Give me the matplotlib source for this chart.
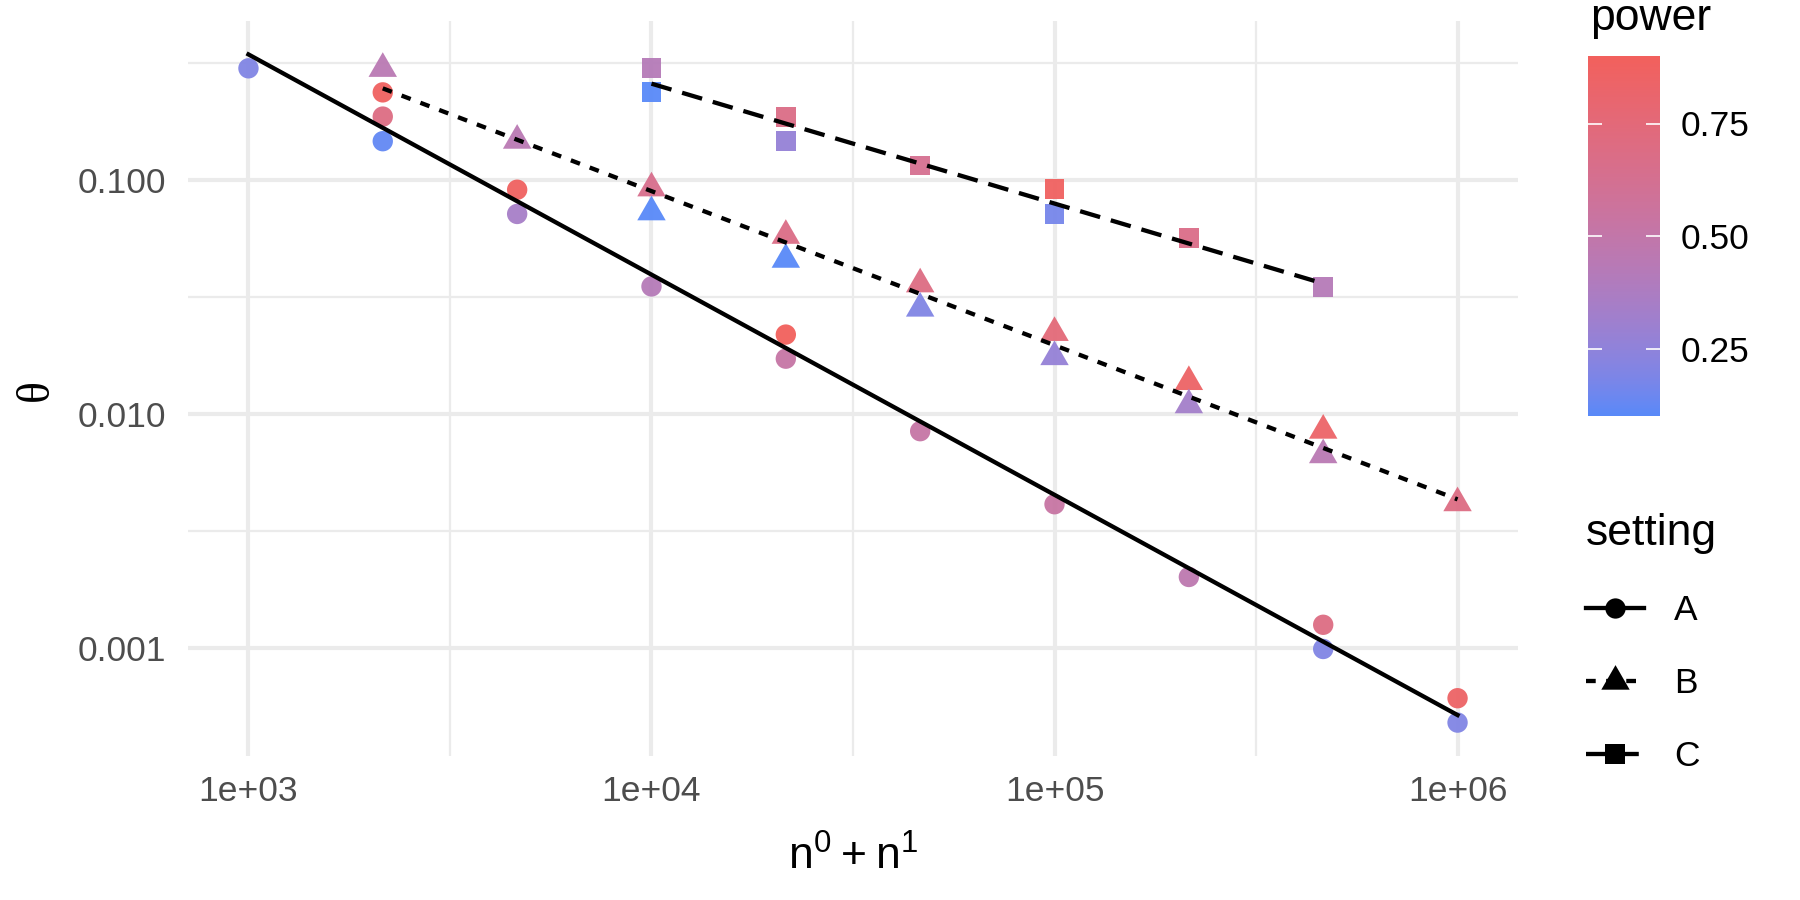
import numpy as np
import matplotlib
matplotlib.use('Agg')
import matplotlib.pyplot as plt
from matplotlib.colors import ListedColormap
from matplotlib.lines import Line2D
from matplotlib.ticker import FixedLocator, FixedFormatter, NullFormatter

# data: n0 + n1, theta, power for each setting
n_A = [1000, 2154, 2154, 2154, 4642, 4642, 10000, 21544, 21544, 46416,
       100000, 215443, 464159, 464159, 1000000, 1000000]
theta_A = [0.299, 0.236, 0.186, 0.146, 0.0906, 0.0714, 0.035, 0.0218, 0.0172,
           0.00843, 0.00411, 0.00201, 0.001256, 0.00099, 0.00061, 0.00048]
power_A = [0.20, 0.88, 0.70, 0.12, 0.88, 0.35, 0.42, 0.90, 0.52,
           0.52, 0.53, 0.47, 0.70, 0.20, 0.85, 0.20]

n_B = [2154, 4642, 10000, 10000, 21544, 21544, 46416, 46416, 100000, 100000,
       215443, 215443, 464159, 464159, 1000000]
theta_B = [0.298, 0.147, 0.092, 0.0727, 0.0577, 0.0456, 0.0358, 0.0282, 0.0222,
           0.0175, 0.0137, 0.0109, 0.00849, 0.00667, 0.00416]
power_B = [0.45, 0.45, 0.65, 0.10, 0.68, 0.10, 0.70, 0.20, 0.75,
           0.27, 0.85, 0.33, 0.84, 0.45, 0.70]

n_C = [10000, 10000, 21544, 21544, 46416, 100000, 100000, 215443, 464159]
theta_C = [0.299, 0.236, 0.186, 0.1465, 0.115, 0.091, 0.0715, 0.0562, 0.0347]
power_C = [0.42, 0.10, 0.68, 0.27, 0.63, 0.88, 0.17, 0.67, 0.42]

settings = ['A', 'B', 'C']
x_ticks = [1e3, 1e4, 1e5, 1e6]
x_tick_labels = ['1e+03', '1e+04', '1e+05', '1e+06']
y_ticks = [0.001, 0.01, 0.1]
y_tick_labels = ['0.001', '0.010', '0.100']
power_ticks = [0.25, 0.50, 0.75]
power_tick_labels = ['0.25', '0.50', '0.75']


def to_lab(rgb):
    c = np.asarray(rgb, float)
    c = np.where(c > 0.04045, ((c + 0.055) / 1.055) ** 2.4, c / 12.92)
    M = np.array([[0.4124, 0.3576, 0.1805], [0.2126, 0.7152, 0.0722], [0.0193, 0.1192, 0.9505]])
    xyz = M @ c / np.array([0.95047, 1.0, 1.08883])
    f = np.where(xyz > 0.008856, np.cbrt(xyz), 7.787 * xyz + 16 / 116)
    return np.array([116 * f[1] - 16, 500 * (f[0] - f[1]), 200 * (f[1] - f[2])])


def from_lab(lab):
    fy = (lab[0] + 16) / 116
    f = np.array([fy + lab[1] / 500, fy, fy - lab[2] / 200])
    xyz = np.where(f ** 3 > 0.008856, f ** 3, (f - 16 / 116) / 7.787) * np.array([0.95047, 1.0, 1.08883])
    M = np.array([[3.2406, -1.5372, -0.4986], [-0.9689, 1.8758, 0.0415], [0.0557, -0.2040, 1.0570]])
    c = M @ xyz
    c = np.where(c > 0.0031308, 1.055 * np.clip(c, 0, None) ** (1 / 2.4) - 0.055, 12.92 * c)
    return np.clip(c, 0, 1)


# gradient low -> high interpolated in Lab like ggplot
low = to_lab(matplotlib.colors.to_rgb('#5889F8'))
high = to_lab(matplotlib.colors.to_rgb('#F2605C'))
cmap = ListedColormap([from_lab(low + t * (high - low)) for t in np.linspace(0, 1, 256)])

plt.rcParams['font.family'] = ['Liberation Sans', 'DejaVu Sans']
plt.rcParams['mathtext.fontset'] = 'custom'
plt.rcParams['mathtext.rm'] = 'Liberation Sans'
plt.rcParams['lines.scale_dashes'] = False

fig = plt.figure(figsize=(18, 9), dpi=100)
ax = fig.add_axes([188 / 1800, 1 - 756 / 900, (1518 - 188) / 1800, (756 - 21) / 900])

tri = [(0, 1), (-0.866, -0.5), (0.866, -0.5)]
markers = {'A': ('o', 215), 'B': (tri, 560), 'C': ('s', 205)}
styles = {'A': '-', 'B': (0, (7, 7.5)), 'C': (0, (15, 8))}
data = {'A': (n_A, theta_A, power_A), 'B': (n_B, theta_B, power_B), 'C': (n_C, theta_C, power_C)}

all_p = power_A + power_B + power_C
vmin, vmax = min(all_p), max(all_p)

lx_all, ly_all = [], []
for s in settings:
    n, th, pw = data[s]
    mk, size = markers[s]
    sc = ax.scatter(n, th, c=pw, cmap=cmap, vmin=vmin, vmax=vmax, marker=mk, s=size,
                    linewidths=0, alpha=0.95, zorder=3)
    lx = np.log10(n)
    ly = np.log10(th)
    coef = np.polyfit(lx, ly, 1)
    xs = np.array([lx.min(), lx.max()])
    ys = np.polyval(coef, xs)
    ax.plot(10 ** xs, 10 ** ys, color='black', lw=3.1, linestyle=styles[s], zorder=4)
    lx_all += list(lx) + list(xs)
    ly_all += list(ly) + list(ys)

# 5% expansion in log space
x0, x1 = min(lx_all), max(lx_all)
y0, y1 = min(ly_all), max(ly_all)
ax.set_xscale('log')
ax.set_yscale('log')
ax.set_xlim(10 ** (x0 - 0.05 * (x1 - x0)), 10 ** (x1 + 0.05 * (x1 - x0)))
ax.set_ylim(10 ** (y0 - 0.05 * (y1 - y0)), 10 ** (y1 + 0.05 * (y1 - y0)))

ax.xaxis.set_major_locator(FixedLocator(x_ticks))
ax.xaxis.set_major_formatter(FixedFormatter(x_tick_labels))
ax.xaxis.set_minor_locator(FixedLocator([10 ** 3.5, 10 ** 4.5, 10 ** 5.5]))
ax.xaxis.set_minor_formatter(NullFormatter())
ax.yaxis.set_major_locator(FixedLocator(y_ticks))
ax.yaxis.set_major_formatter(FixedFormatter(y_tick_labels))
ax.yaxis.set_minor_locator(FixedLocator([10 ** -3.5, 10 ** -2.5, 10 ** -1.5, 10 ** -0.5]))
ax.yaxis.set_minor_formatter(NullFormatter())

ax.grid(True, which='major', color='#EBEBEB', lw=3.0)
ax.grid(True, which='minor', color='#EBEBEB', lw=1.6)
ax.set_axisbelow(True)
for sp in ax.spines.values():
    sp.set_visible(False)
ax.tick_params(axis='both', which='both', length=0, labelsize=25.5, labelcolor='#4D4D4D')
ax.tick_params(axis='x', pad=14)
ax.tick_params(axis='y', pad=16)

fig.text(853 / 1800, 1 - 870 / 900, r'$\mathrm{n}^{0} + \mathrm{n}^{1}$', fontsize=32,
         ha='center', va='baseline')
fig.text(37 / 1800, 1 - 390 / 900, 'θ', fontsize=33, family=['Liberation Serif', 'DejaVu Serif'],
         rotation=90, ha='center', va='center')

# colour bar
cax = fig.add_axes([1588 / 1800, 1 - 416 / 900, 72 / 1800, 360 / 900])
cb = fig.colorbar(sc, cax=cax)
cb.outline.set_visible(False)
cb.solids.set_alpha(1)
cb.set_ticks(power_ticks)
cb.set_ticklabels(power_tick_labels)
cax.tick_params(axis='y', direction='in', length=10, width=1.2, color='white',
                left=True, right=True, labelsize=25.5, pad=15)
fig.text(1590 / 1800, 1 - 30 / 900, 'power', fontsize=32, ha='left', va='baseline')

# shape / linetype legend
handles = [Line2D([], [], color='black', lw=3.1, linestyle=styles[s], marker=markers[s][0],
                  markersize={'A': 14.6, 'B': 23.6, 'C': 14.3}[s], markeredgewidth=0)
           for s in settings]
fig.legend(handles, settings, loc='upper left', bbox_to_anchor=(1586 / 1800, 1 - 513 / 900),
           frameon=False, fontsize=25.5, title='setting', title_fontsize=32,
           handlelength=1.63, handletextpad=0.85, labelspacing=1.13, borderpad=0,
           borderaxespad=0, alignment='left')

fig.savefig('out.png', dpi=100)
